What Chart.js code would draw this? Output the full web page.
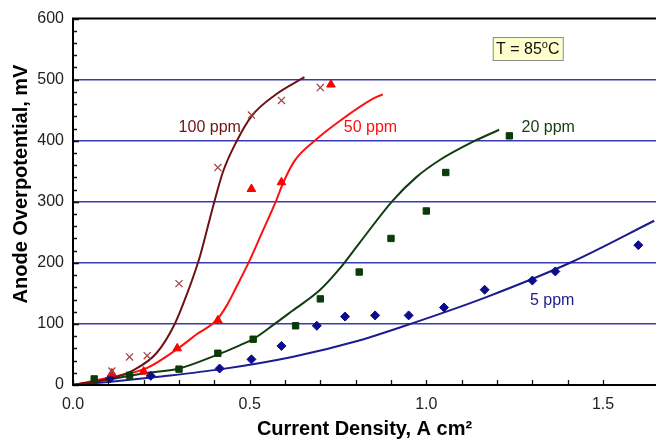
<!DOCTYPE html>
<html>
<head>
<meta charset="utf-8">
<script src="https://cdn.jsdelivr.net/npm/chart.js@4.4.0/dist/chart.umd.min.js"></script>
<style>
  html, body { margin: 0; padding: 0; background: #fff; overflow: hidden; }
  canvas { display: block; }
</style>
</head>
<body>
<canvas id="overpotChart" width="656" height="439"></canvas>
<script>
// Measured points, current density (A cm-2) vs overpotential (mV)
const ppm100X = [0.11, 0.16, 0.21, 0.30, 0.41, 0.505, 0.59, 0.70];
const ppm100Y = [23, 46, 48, 166, 356, 442, 466, 487];
const ppm50X = [0.11, 0.20, 0.295, 0.41, 0.505, 0.59, 0.73];
const ppm50Y = [19, 22, 60, 106, 321, 332, 492];
const ppm20X = [0.06, 0.16, 0.30, 0.41, 0.51, 0.63, 0.70, 0.81, 0.90, 1.00, 1.055, 1.235];
const ppm20Y = [10, 16, 26, 52, 75, 97, 141, 185, 240, 285, 348, 408];
const ppm5X = [0.105, 0.22, 0.415, 0.505, 0.59, 0.69, 0.77, 0.855, 0.95, 1.05, 1.165, 1.30, 1.365, 1.60];
const ppm5Y = [11, 15, 27, 42, 64, 97, 112, 114, 114, 127, 156, 171, 186, 229];

// Model curves
const fit100X = [0, 0.11, 0.17, 0.236, 0.288, 0.32, 0.345, 0.36, 0.38, 0.401, 0.425, 0.462, 0.505, 0.575, 0.655];
const fit100Y = [0, 11, 24, 52, 100, 145, 185, 212, 256, 302, 350, 398, 440, 476, 504];
const fit50X = [0, 0.11, 0.21, 0.30, 0.35, 0.406, 0.435, 0.462, 0.50, 0.533, 0.575, 0.594, 0.627, 0.684, 0.754, 0.853, 0.877];
const fit50Y = [0, 13, 28, 61, 83, 106, 130, 160, 204, 247, 302, 330, 367, 400, 432, 470, 476];
const fit20X = [0, 0.10, 0.20, 0.30, 0.406, 0.472, 0.512, 0.566, 0.622, 0.698, 0.754, 0.81, 0.905, 0.971, 1.037, 1.131, 1.206];
const fit20Y = [0, 9, 19, 27, 49, 65, 76, 98, 122, 155, 190, 232, 302, 340, 368, 398, 418];
const fit5X = [0, 0.10, 0.25, 0.42, 0.62, 0.81, 0.97, 1.17, 1.41, 1.645];
const fit5Y = [0, 5, 14, 26, 46, 73, 103, 144, 201, 269];

const xTickLabels = ['0.0', '0.5', '1.0', '1.5'];
const yTickLabels = ['0', '100', '200', '300', '400', '500', '600'];

const seriesNames = ['100 ppm', '50 ppm', '20 ppm', '5 ppm'];
const lineColors = ['#6e1212', '#ff1010', '#123d12', '#1c1c90'];
const markColors = ['#a04646', '#ff0000', '#0b3a0b', '#0c0c8c'];

// where the curve names and the temperature note sit (data units)
const nameSpots = [[0.387, 421], [0.842, 421], [1.345, 421], [1.356, 139]];
const noteSpot = [1.287, 551];

const FONT = '"Liberation Sans", Arial, sans-serif';
const zip = (xs, ys) => xs.map((x, i) => ({ x: x, y: ys[i] }));

function curve(i, xs, ys) {
  return {
    label: seriesNames[i] + ' fit', data: zip(xs, ys), showLine: true,
    borderColor: lineColors[i], borderWidth: 2, pointRadius: 0,
    cubicInterpolationMode: 'monotone', order: 1
  };
}
function marks(i, xs, ys, style, r, bw) {
  return {
    label: seriesNames[i], data: zip(xs, ys), showLine: false,
    pointStyle: style, pointRadius: r, pointHoverRadius: r,
    backgroundColor: markColors[i], borderColor: markColors[i],
    pointBorderWidth: bw, order: 0
  };
}

const near = (v, step) => Math.abs(v / step - Math.round(v / step)) < 1e-6;

// axis frame, inward tick marks, curve names and the note box
const decorations = {
  id: 'decorations',
  afterDraw(chart) {
    const { ctx, chartArea: a, scales: { x, y } } = chart;
    ctx.save();
    ctx.strokeStyle = '#111';
    ctx.lineWidth = 1.3;
    ctx.beginPath();
    y.ticks.forEach(t => {
      const py = Math.round(y.getPixelForValue(t.value)) + 0.5;
      const len = near(t.value, 100) ? 6 : 4;
      ctx.moveTo(a.left, py); ctx.lineTo(a.left + len, py);
    });
    x.ticks.forEach(t => {
      if (!near(t.value, 0.1)) return;
      const px = Math.round(x.getPixelForValue(t.value)) + 0.5;
      ctx.moveTo(px, a.bottom); ctx.lineTo(px, a.bottom - 5);
    });
    ctx.stroke();

    ctx.strokeStyle = '#000';
    ctx.lineWidth = 2;
    ctx.beginPath();
    ctx.moveTo(a.right, a.top); ctx.lineTo(a.left, a.top);
    ctx.lineTo(a.left, a.bottom); ctx.lineTo(a.right, a.bottom);
    ctx.stroke();

    ctx.font = '16px ' + FONT;
    ctx.textAlign = 'center';
    ctx.textBaseline = 'middle';
    nameSpots.forEach((p, i) => {
      ctx.fillStyle = lineColors[i];
      ctx.fillText(seriesNames[i], x.getPixelForValue(p[0]), y.getPixelForValue(p[1]));
    });

    const cx = x.getPixelForValue(noteSpot[0]);
    const cy = y.getPixelForValue(noteSpot[1]);
    ctx.fillStyle = '#ffffcc';
    ctx.fillRect(cx - 35, cy - 11.5, 70, 23);
    ctx.strokeStyle = '#8a8a8a';
    ctx.lineWidth = 1;
    ctx.strokeRect(cx - 35 + 0.5, cy - 11.5 + 0.5, 70, 23);
    ctx.fillStyle = '#111';
    ctx.textAlign = 'left';
    const main = 'T = 85';
    ctx.font = '16px ' + FONT;
    const w1 = ctx.measureText(main).width;
    const w3 = ctx.measureText('C').width;
    ctx.font = '11px ' + FONT;
    const w2 = ctx.measureText('o').width;
    const tx = cx - (w1 + w2 + w3) / 2;
    ctx.font = '16px ' + FONT;
    ctx.fillText(main, tx, cy + 1);
    ctx.fillText('C', tx + w1 + w2, cy + 1);
    ctx.font = '11px ' + FONT;
    ctx.fillText('o', tx + w1, cy - 4);

    // y axis title
    ctx.translate(21, 184);
    ctx.rotate(-Math.PI / 2);
    ctx.textAlign = 'center';
    ctx.font = 'bold 20px ' + FONT;
    ctx.fillStyle = '#000';
    ctx.fillText('Anode Overpotential, mV', 0, 0);
    ctx.restore();
  }
};

new Chart(document.getElementById('overpotChart'), {
  type: 'scatter',
  data: {
    datasets: [
      curve(0, fit100X, fit100Y),
      curve(1, fit50X, fit50Y),
      curve(2, fit20X, fit20Y),
      curve(3, fit5X, fit5Y),
      marks(0, ppm100X, ppm100Y, 'crossRot', 5, 1.3),
      marks(1, ppm50X, ppm50Y, 'triangle', 5, 1),
      marks(2, ppm20X, ppm20Y, 'rect', 4.5, 1),
      marks(3, ppm5X, ppm5Y, 'rectRot', 4.5, 1)
    ]
  },
  options: {
    responsive: false,
    animation: false,
    layout: { autoPadding: false, padding: { left: 0, right: 0, top: 17, bottom: 0 } },
    plugins: { legend: { display: false }, tooltip: { enabled: false } },
    scales: {
      x: {
        type: 'linear', min: 0, max: 1.65, bounds: 'data',
        // the tick padding would otherwise eat into the plot's right edge
        afterFit: s => { s.height = 54; s.paddingLeft = 0; s.paddingRight = 0; },
        border: { display: false },
        grid: { display: false, drawTicks: false },
        ticks: {
          stepSize: 0.1, padding: 10, color: '#222',
          font: { size: 16, family: FONT },
          autoSkip: false, maxRotation: 0,
          callback: v => near(v, 0.5) ? xTickLabels[Math.round(v / 0.5)] : ''
        },
        title: {
          display: true, text: 'Current Density, A cm\u00b2', color: '#000',
          font: { size: 20, weight: 'bold', family: FONT },
          padding: { top: 0, bottom: -2 }
        }
      },
      y: {
        min: 0, max: 600,
        afterFit: s => { s.width = 73; },
        border: { display: false },
        grid: {
          drawTicks: false, lineWidth: 1.4,
          color: c => (near(c.tick.value, 100) && c.tick.value > 0 && c.tick.value < 600) ? '#3a3ab0' : 'rgba(0,0,0,0)'
        },
        ticks: {
          stepSize: 20, padding: 9, color: '#222', autoSkip: false,
          font: { size: 16, family: FONT },
          callback: v => near(v, 100) ? yTickLabels[Math.round(v / 100)] : ''
        }
      }
    }
  },
  plugins: [decorations]
});
</script>
</body>
</html>
